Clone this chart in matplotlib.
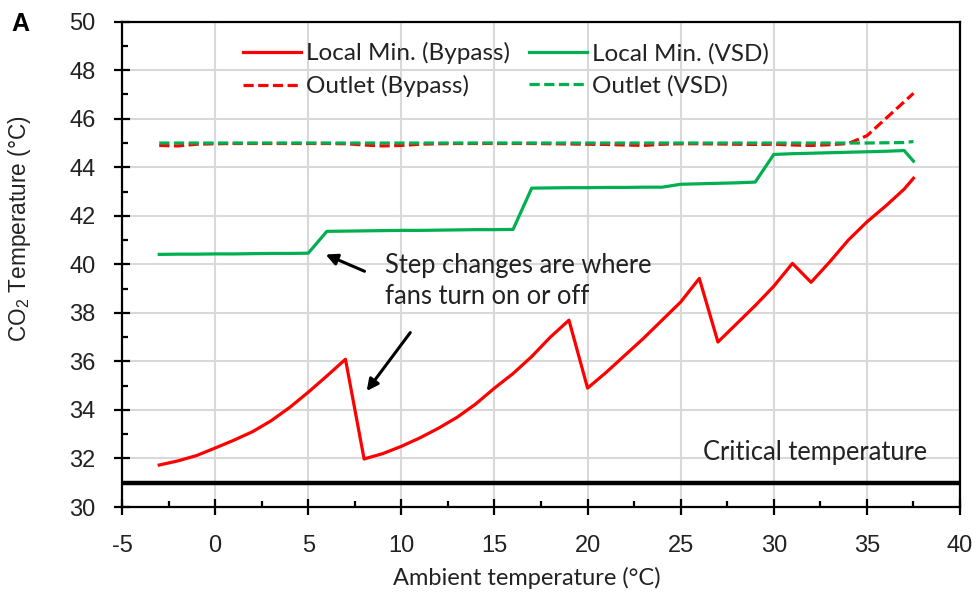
import matplotlib
matplotlib.use("Agg")
import matplotlib.pyplot as plt
from matplotlib.ticker import MultipleLocator

plt.rcParams['axes.unicode_minus'] = False

# ---- data ----
ambient = [-3, -2, -1, 0, 1, 2, 3, 4, 5, 6, 7, 8, 9, 10, 11, 12, 13, 14, 15, 16,
           17, 18, 19, 20, 21, 22, 23, 24, 25, 26, 27, 28, 29, 30, 31, 32, 33, 34,
           35, 36, 37, 37.5]

local_min_bypass = [31.73, 31.9, 32.12, 32.43, 32.75, 33.1, 33.55, 34.1, 34.73, 35.4,
                    36.09, 31.98, 32.2, 32.5, 32.85, 33.25, 33.7, 34.25, 34.9, 35.5,
                    36.2, 37.0, 37.7, 34.9, 35.55, 36.25, 36.95, 37.7, 38.45, 39.42,
                    36.8, 37.55, 38.3, 39.1, 40.04, 39.26, 40.1, 41.0, 41.75, 42.4,
                    43.1, 43.55]

local_min_vsd = [40.41, 40.42, 40.42, 40.43, 40.43, 40.44, 40.45, 40.45, 40.46, 41.36,
                 41.37, 41.38, 41.39, 41.4, 41.4, 41.41, 41.42, 41.43, 41.43, 41.44,
                 43.14, 43.15, 43.16, 43.16, 43.17, 43.17, 43.18, 43.18, 43.3, 43.32,
                 43.34, 43.36, 43.39, 44.53, 44.56, 44.58, 44.6, 44.62, 44.64, 44.66,
                 44.69, 44.25]

outlet_bypass = [44.9, 44.88, 44.95, 44.97, 44.98, 44.98, 44.98, 44.98, 44.98, 44.98,
                 44.97, 44.92, 44.88, 44.9, 44.95, 44.97, 44.98, 44.98, 44.98, 44.98,
                 44.98, 44.97, 44.96, 44.95, 44.94, 44.92, 44.9, 44.95, 44.97, 44.97,
                 44.96, 44.95, 44.94, 44.95, 44.92, 44.9, 44.93, 44.98, 45.3, 46.0,
                 46.7, 47.05]

outlet_vsd = [45.0, 45.0, 45.0, 45.0, 45.0, 45.0, 45.0, 45.0, 45.0, 45.0,
              45.0, 45.0, 45.0, 45.0, 45.0, 45.0, 45.0, 45.0, 45.0, 45.0,
              45.0, 45.0, 45.0, 45.0, 45.0, 45.0, 45.0, 45.0, 45.0, 45.0,
              45.0, 45.0, 45.0, 45.0, 45.0, 45.0, 45.0, 45.0, 45.0, 45.01,
              45.02, 45.06]

critical_temp = 31.0

x_ticks = [-5, 0, 5, 10, 15, 20, 25, 30, 35, 40]
y_ticks = [30, 32, 34, 36, 38, 40, 42, 44, 46, 48, 50]

# ---- style ----
RED = '#FF0000'
GREEN = '#00B050'
TXT = '#222222'
TXT_FONT = ['Lato', 'DejaVu Sans']
NUM_FONT = ['Liberation Sans', 'DejaVu Sans']
FS = 18.4

fig = plt.figure(figsize=(9.72, 5.96), dpi=100)
ax = fig.add_axes([0.1255, 0.1493, 0.8622, 0.8143])

lw = 2.3
dash = (0, (3.2, 1.4))
ax.plot(ambient, outlet_bypass, color=RED, lw=lw, ls=dash, label='Outlet (Bypass)', zorder=3)
ax.plot(ambient, outlet_vsd, color=GREEN, lw=lw, ls=dash, label='Outlet (VSD)', zorder=3)
ax.plot(ambient, local_min_bypass, color=RED, lw=lw, label='Local Min. (Bypass)', zorder=4)
ax.plot(ambient, local_min_vsd, color=GREEN, lw=lw, label='Local Min. (VSD)', zorder=4)
ax.axhline(critical_temp, color='black', lw=3.2, zorder=5)

ax.set_xlim(-5, 40)
ax.set_ylim(30, 50)
ax.set_xticks(x_ticks)
ax.set_yticks(y_ticks)
ax.xaxis.set_minor_locator(MultipleLocator(2.5))
ax.yaxis.set_minor_locator(MultipleLocator(1))
ax.grid(True, which='major', color='#D9D9D9', lw=1.5, zorder=0)
ax.set_axisbelow(True)

for s in ax.spines.values():
    s.set_color('black')
    s.set_linewidth(1.6)

ax.tick_params(which='major', direction='inout', length=12, width=1.6, color='black',
               labelsize=17)
ax.tick_params(which='minor', direction='in', length=4.5, width=1.6, color='black')
ax.tick_params(axis='y', pad=13)
ax.tick_params(axis='x', pad=14)
for lab in ax.get_xticklabels() + ax.get_yticklabels():
    lab.set_family(NUM_FONT)
    lab.set_color(TXT)

ax.set_xlabel('Ambient temperature (°C)', family=TXT_FONT, fontsize=17, color=TXT,
              va='center')
ax.xaxis.set_label_coords(0.483, -0.146)
ax.set_ylabel('CO$_\\mathregular{2}$ Temperature (°C)', family=NUM_FONT, fontsize=16.3,
              color=TXT, va='center')
ax.yaxis.set_label_coords(-0.1217, 0.574)

handles, labels = ax.get_legend_handles_labels()
idx = [2, 0, 3, 1]
leg = ax.legend([handles[i] for i in idx], [labels[i] for i in idx],
                ncol=2, frameon=False, loc='upper left', bbox_to_anchor=(0.1444, 0.958),
                borderaxespad=0, borderpad=0,
                handlelength=2.4, handletextpad=0.2, columnspacing=0.78,
                labelspacing=0.45, prop={'family': TXT_FONT, 'size': 17.5})
for t in leg.get_texts():
    t.set_color(TXT)

ax.text(9.1, 40.45, 'Step changes are where\nfans turn on or off', family=TXT_FONT,
        fontsize=FS, color=TXT, va='top', ha='left', linespacing=1.3)
ax.annotate('', xy=(5.8, 40.45), xytext=(8.16, 39.67),
            arrowprops=dict(arrowstyle='-|>', color='black', lw=2.2, mutation_scale=17))
ax.annotate('', xy=(8.05, 34.69), xytext=(10.57, 37.28),
            arrowprops=dict(arrowstyle='-|>', color='black', lw=2.2, mutation_scale=17))

ax.text(26.2, 32.25, 'Critical temperature', family=TXT_FONT, fontsize=FS,
        color=TXT, va='center', ha='left')

fig.text(0.0206, 0.96, 'A', family=NUM_FONT, fontsize=18, fontweight='bold',
         va='center', ha='center')

fig.savefig('out.png', dpi=100)
